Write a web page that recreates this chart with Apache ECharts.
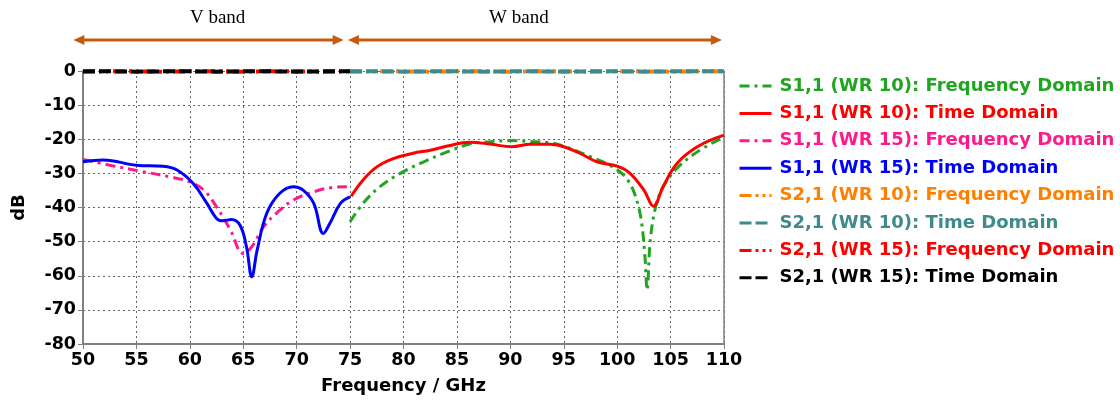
<!DOCTYPE html>
<html>
<head>
<meta charset="utf-8">
<script src="https://cdn.jsdelivr.net/npm/echarts@6/dist/echarts.min.js"></script>
<style>
  html, body { margin: 0; padding: 0; background: #ffffff; }
  #chart { width: 1120px; height: 402px; }
</style>
</head>
<body>
<div id="chart"></div>
<script>
// ---------- Data ----------
const xTicks = [50, 55, 60, 65, 70, 75, 80, 85, 90, 95, 100, 105, 110];
const yTicks = [0, -10, -20, -30, -40, -50, -60, -70, -80];

// S1,1 (WR 15): Time Domain
const freqS11Wr15Time = [50, 51.9, 55, 57.5, 58.8, 60.3, 61.6, 62.5, 63.1, 63.9, 64.7, 65.3, 65.8, 66.3, 67.2, 68.4, 69.7, 70.6, 71.6, 72.5, 73.1, 74.1, 75];
const s11Wr15Time = [-26.6, -26.1, -27.6, -27.9, -29.0, -32.9, -38.8, -43.2, -43.9, -43.5, -45.2, -51.5, -60.3, -52.5, -41.7, -35.9, -33.9, -34.9, -38.8, -47.6, -44.7, -38.8, -36.9];

// S1,1 (WR 15): Frequency Domain
const freqS11Wr15Freq = [50, 52.5, 55.6, 58.1, 60, 61.3, 62.5, 63.8, 65, 65.8, 66.9, 68.1, 69.7, 71.6, 73.4, 74.7];
const s11Wr15Freq = [-25.9, -27.6, -29.5, -31.0, -32.5, -34.9, -39.8, -46.6, -53.5, -51.5, -45.7, -41.7, -37.8, -35.4, -34.1, -33.9];

// S1,1 (WR 10): Time Domain
const freqS11Wr10Time = [75.1, 76.2, 77.5, 79.1, 80.9, 82.5, 84.1, 86.2, 88.1, 90.1, 91.9, 93.7, 95.0, 96.5, 98.1, 100.0, 101.2, 102.5, 103.4, 104.3, 105.6, 107.5, 110];
const s11Wr10Time = [-36.7, -32.0, -28.1, -25.6, -24.1, -23.2, -22.0, -20.9, -21.4, -22.2, -21.5, -21.5, -22.2, -24.1, -26.6, -27.9, -30.0, -34.9, -39.6, -33.9, -27.1, -22.2, -18.8];

// S1,1 (WR 10): Frequency Domain
const freqS11Wr10Freq = [75.0, 76.2, 77.8, 79.7, 81.9, 84.1, 86.2, 88.1, 90.1, 91.9, 93.7, 95.6, 97.5, 99.3, 100.6, 101.5, 102.2, 102.6, 102.8, 103.1, 103.6, 104.3, 105.6, 107.5, 110];
const s11Wr10Freq = [-44.2, -38.8, -33.9, -30.0, -26.6, -23.7, -21.4, -20.7, -20.4, -20.7, -21.0, -22.7, -25.1, -27.6, -30.5, -34.9, -42.7, -54.4, -64.2, -49.6, -39.8, -33.9, -28.5, -23.7, -19.3];

// S2,1 curves (all near 0 dB)
const freqVBand = [50, 52.5, 55, 57.5, 60, 62.5, 65, 67.5, 70, 72.5, 75];
const s21Wr15Freq = [-0.2, -0.1, -0.1, -0.2, -0.1, -0.1, -0.2, -0.1, -0.1, -0.2, -0.1];
const s21Wr15Time = [-0.1, -0.1, -0.2, -0.1, -0.1, -0.2, -0.1, -0.1, -0.2, -0.1, -0.1];
const freqWBand = [75, 77.5, 80, 82.5, 85, 87.5, 90, 92.5, 95, 97.5, 100, 102.5, 105, 107.5, 110];
const s21Wr10Freq = [-0.2, -0.1, -0.1, -0.2, -0.1, -0.1, -0.2, -0.1, -0.1, -0.2, -0.1, -0.1, -0.2, -0.1, -0.1];
const s21Wr10Time = [-0.1, -0.1, -0.2, -0.1, -0.1, -0.2, -0.1, -0.1, -0.2, -0.1, -0.1, -0.2, -0.1, -0.1, -0.1];

// Band annotations (GHz)
const bands = [
  { label: 'V band', from: 49.1, to: 74.4, labelAt: 62.6 },
  { label: 'W band', from: 74.8, to: 109.8, labelAt: 90.8 }
];

// ---------- Helpers ----------
function pairs(xs, ys) { return xs.map((x, i) => [x, ys[i]]); }

const FONT = 'DejaVu Sans';
const C = {
  green: '#1fa51f', red: '#ff0000', pink: '#ff1a8c', blue: '#0000ff',
  orange: '#ff8000', teal: '#3f8a8a', black: '#000000', arrow: '#c55a11'
};
const dashDot = [10, 5, 3, 5];
const dashDotDot = [12, 4, 3, 4, 3, 4];
const dashed = [12, 4];

function lineSeries(name, data, color, type, width, smooth, z) {
  return {
    name: name, type: 'line', data: data, showSymbol: false, symbol: 'none',
    smooth: smooth, z: z,
    lineStyle: { color: color, width: width, type: type },
    itemStyle: { color: color },
    emphasis: { disabled: true }, silent: true, animation: false
  };
}

const names = {
  g: 'S1,1 (WR 10): Frequency Domain',
  r: 'S1,1 (WR 10): Time Domain',
  p: 'S1,1 (WR 15): Frequency Domain',
  b: 'S1,1 (WR 15): Time Domain',
  o: 'S2,1 (WR 10): Frequency Domain',
  t: 'S2,1 (WR 10): Time Domain',
  rr: 'S2,1 (WR 15): Frequency Domain',
  k: 'S2,1 (WR 15): Time Domain'
};

const series = [
  lineSeries(names.p, pairs(freqS11Wr15Freq, s11Wr15Freq), C.pink, dashDot, 3, 0.4, 2),
  lineSeries(names.b, pairs(freqS11Wr15Time, s11Wr15Time), C.blue, 'solid', 3, 0.4, 3),
  lineSeries(names.g, pairs(freqS11Wr10Freq, s11Wr10Freq), C.green, dashDot, 3, 0.35, 2),
  lineSeries(names.r, pairs(freqS11Wr10Time, s11Wr10Time), C.red, 'solid', 3, 0.4, 3),
  lineSeries(names.rr, pairs(freqVBand, s21Wr15Freq), C.red, dashDotDot, 4, false, 4),
  lineSeries(names.k, pairs(freqVBand, s21Wr15Time), C.black, dashed, 4, false, 5),
  lineSeries(names.o, pairs(freqWBand, s21Wr10Freq), C.orange, dashDotDot, 4, false, 4),
  lineSeries(names.t, pairs(freqWBand, s21Wr10Time), C.teal, dashed, 4, false, 5)
];

const legendOrder = [
  [names.g, C.green], [names.r, C.red], [names.p, C.pink], [names.b, C.blue],
  [names.o, C.orange], [names.t, C.teal], [names.rr, C.red], [names.k, C.black]
];

const chart = echarts.init(document.getElementById('chart'), null, { renderer: 'canvas' });

const option = {
  backgroundColor: '#ffffff',
  animation: false,
  grid: { left: 83, right: 396, top: 71, bottom: 58, containLabel: false },
  legend: {
    orient: 'vertical', left: 738, top: 77, padding: 0,
    itemWidth: 32, itemHeight: 14, itemGap: 9.4,
    selectedMode: false,
    lineStyle: { width: 3 },
    itemStyle: { opacity: 0, borderWidth: 0 },
    textStyle: { fontFamily: FONT, fontWeight: 'bold', fontSize: 18, lineHeight: 18, padding: [0, 0, 0, 3] },
    data: legendOrder.map(([n, c]) => ({ name: n, textStyle: { color: c } }))
  },
  xAxis: {
    type: 'value', min: xTicks[0], max: xTicks[xTicks.length - 1], interval: 5,
    name: 'Frequency / GHz', nameLocation: 'middle', nameGap: 33,
    nameTextStyle: { fontFamily: FONT, fontWeight: 'bold', fontSize: 18, color: '#000' },
    axisLine: { show: true, onZero: false, lineStyle: { color: '#808080', width: 2 } },
    axisTick: { show: true, length: 5, lineStyle: { color: '#808080', width: 1 } },
    axisLabel: { fontFamily: FONT, fontWeight: 'bold', fontSize: 17.5, color: '#000', margin: 7 },
    splitLine: { show: true, lineStyle: { color: '#666', width: 1, type: [2, 3] } }
  },
  yAxis: [{
    type: 'value', min: yTicks[yTicks.length - 1], max: yTicks[0], interval: 10,
    name: 'dB', nameLocation: 'middle', nameGap: 55, nameRotate: 90,
    nameTextStyle: { fontFamily: FONT, fontWeight: 'bold', fontSize: 18, color: '#000' },
    axisLine: { show: true, lineStyle: { color: '#808080', width: 2 } },
    axisTick: { show: true, length: 5, lineStyle: { color: '#808080', width: 1 } },
    axisLabel: { fontFamily: FONT, fontWeight: 'bold', fontSize: 17.5, color: '#000', margin: 7 },
    splitLine: { show: true, lineStyle: { color: '#666', width: 1, type: [2, 3] } }
  }, {
    type: 'value', min: yTicks[yTicks.length - 1], max: yTicks[0], interval: 10,
    position: 'right',
    axisLine: { show: true, lineStyle: { color: '#808080', width: 1.5 } },
    axisTick: { show: false }, axisLabel: { show: false }, splitLine: { show: false }
  }],
  series: series
};

chart.setOption(option);

// Band arrows above the plot, positioned through the x axis scale
const gridTop = option.grid.top;
const arrowY = gridTop - 31;
const textY = gridTop - 53;
const graphics = [];
bands.forEach(b => {
  const x1 = chart.convertToPixel({ xAxisIndex: 0 }, b.from);
  const x2 = chart.convertToPixel({ xAxisIndex: 0 }, b.to);
  const xm = chart.convertToPixel({ xAxisIndex: 0 }, b.labelAt);
  const head = 11, hw = 5;
  graphics.push({
    type: 'line', silent: true,
    shape: { x1: x1 + head - 1, y1: arrowY, x2: x2 - head + 1, y2: arrowY },
    style: { stroke: C.arrow, lineWidth: 3 }
  });
  graphics.push({
    type: 'polygon', silent: true,
    shape: { points: [[x1, arrowY], [x1 + head, arrowY - hw], [x1 + head, arrowY + hw]] },
    style: { fill: C.arrow }
  });
  graphics.push({
    type: 'polygon', silent: true,
    shape: { points: [[x2, arrowY], [x2 - head, arrowY - hw], [x2 - head, arrowY + hw]] },
    style: { fill: C.arrow }
  });
  graphics.push({
    type: 'text', silent: true, x: xm, y: textY,
    style: { text: b.label, fontFamily: 'Liberation Serif', fontSize: 19, fill: '#000',
             textAlign: 'center', textVerticalAlign: 'middle' }
  });
});
chart.setOption({ graphic: graphics });
</script>
</body>
</html>
